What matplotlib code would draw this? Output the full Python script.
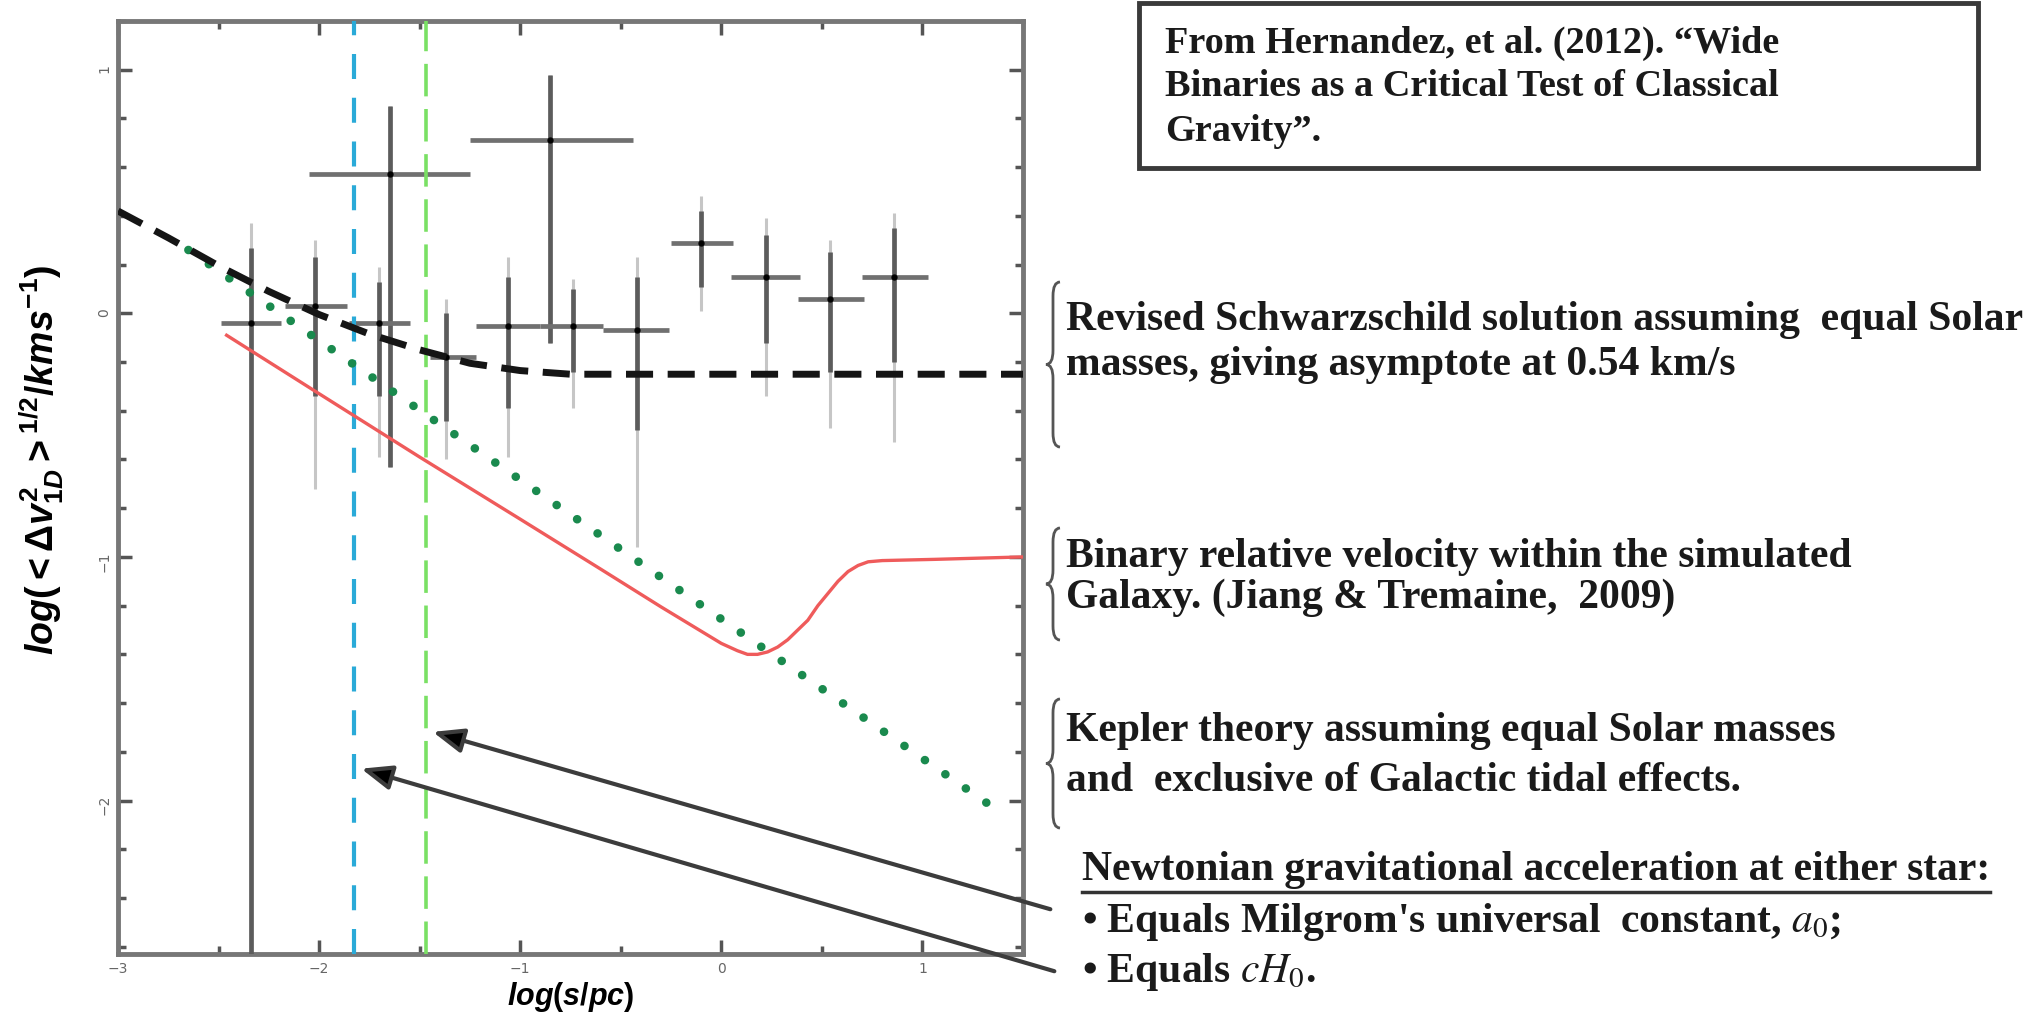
import numpy as np
import matplotlib
matplotlib.use('Agg')
import matplotlib.pyplot as plt
from matplotlib.path import Path
from matplotlib.patches import PathPatch, Rectangle
from matplotlib.ticker import MultipleLocator

plt.rcParams['mathtext.fontset'] = 'custom'
plt.rcParams['mathtext.it'] = 'Liberation Sans:italic:bold'
plt.rcParams['mathtext.rm'] = 'Liberation Sans:bold'
plt.rcParams['mathtext.bf'] = 'Liberation Sans:bold'

# --- binned wide-binary data (crosses) ---
pt_x = [-2.34, -2.02, -1.65, -1.70, -1.37, -1.06, -0.85, -0.74, -0.42, -0.10, 0.22, 0.54, 0.86]
pt_y = [-0.04, 0.03, 0.57, -0.04, -0.18, -0.05, 0.71, -0.05, -0.07, 0.29, 0.15, 0.06, 0.15]
x_lo = [-2.49, -2.17, -2.05, -1.85, -1.45, -1.22, -1.25, -0.90, -0.59, -0.25, 0.05, 0.38, 0.70]
x_hi = [-2.19, -1.86, -1.25, -1.55, -1.22, -0.90, -0.44, -0.59, -0.26, 0.06, 0.39, 0.71, 1.03]
dark_lo = [-3.00, -0.34, -0.63, -0.34, -0.44, -0.39, -0.12, -0.24, -0.48, 0.11, -0.12, -0.24, -0.20]
dark_hi = [0.27, 0.23, 0.85, 0.13, 0.00, 0.15, 0.98, 0.10, 0.15, 0.42, 0.32, 0.25, 0.35]
light_lo = [-3.00, -0.72, -0.63, -0.59, -0.60, -0.59, -0.12, -0.39, -0.96, 0.01, -0.34, -0.47, -0.53]
light_hi = [0.37, 0.30, 0.85, 0.19, 0.06, 0.23, 0.98, 0.14, 0.23, 0.48, 0.39, 0.30, 0.41]

# revised Schwarzschild curve (black dashed)
sch_x = [-3.0, -2.75, -2.5, -2.25, -2.0, -1.75, -1.5, -1.25, -1.0, -0.75, -0.5, 1.5]
sch_y = [0.42, 0.31, 0.195, 0.09, -0.005, -0.085, -0.15, -0.205, -0.235, -0.25, -0.25, -0.25]

# Jiang & Tremaine galaxy simulation (red)
jt_x = [-2.46, -2.0, -1.5, -1.0, -0.6, -0.3, -0.1, 0.0, 0.08, 0.13, 0.18, 0.23, 0.28, 0.33,
        0.38, 0.43, 0.48, 0.53, 0.58, 0.63, 0.68, 0.73, 0.8, 1.06, 1.5]
jt_y = [-0.09, -0.33, -0.59, -0.845, -1.05, -1.205, -1.305, -1.355, -1.385, -1.40, -1.40, -1.39,
        -1.37, -1.34, -1.30, -1.26, -1.20, -1.15, -1.10, -1.06, -1.035, -1.02, -1.015, -1.01, -1.0]

# Kepler (green dotted)
kep_x = [-2.65, 1.32]
kep_y = [0.26, -2.01]

cyan_x = -1.826
lime_x = -1.468

W, H = 2030, 1013


def fx(px):
    return px / W


def fy(py):
    return 1 - py / H


fig = plt.figure(figsize=(20.3, 10.13), dpi=100)
ax = fig.add_axes([fx(118), fy(954), (1023 - 118) / W, (954 - 21) / H])

ax.vlines(pt_x, light_lo, light_hi, color='#c6c6c6', lw=2.2, zorder=2)
ax.vlines(pt_x, dark_lo, dark_hi, color='#5c5c5c', lw=3.4, zorder=3)
ax.hlines(pt_y, x_lo, x_hi, color='#707070', lw=3.4, zorder=3)
ax.plot(pt_x, pt_y, 'o', ms=3.5, color='black', zorder=4)

ax.axvline(cyan_x, color='#2aaad8', lw=3, dashes=(6, 4.5), zorder=4)
ax.axvline(lime_x, color='#7ae064', lw=2.6, dashes=(9, 3.5), zorder=4)

ax.plot(jt_x, jt_y, color='#ef5b5b', lw=2.4, zorder=5)
ax.plot(kep_x, kep_y, color='#1a8a4e', lw=6.2, linestyle=(0, (0.01, 2.88)),
        dash_capstyle='round', zorder=6)
ax.plot(sch_x, sch_y, color='#151515', lw=5, dashes=(3.9, 2.1), zorder=7)

ax.set_xlim(-3, 1.5)
ax.set_ylim(-2.63, 1.2)
ax.xaxis.set_major_locator(MultipleLocator(1))
ax.xaxis.set_minor_locator(MultipleLocator(0.5))
ax.yaxis.set_major_locator(MultipleLocator(1))
ax.yaxis.set_minor_locator(MultipleLocator(0.2))
ax.tick_params(which='both', direction='in', top=True, right=True, color='#555555', width=2.5)
ax.tick_params(which='major', length=10, labelsize=10, labelcolor='#666666')
ax.tick_params(which='minor', length=6)
ax.tick_params(axis='x', pad=6)
ax.tick_params(axis='y', labelrotation=90, pad=5)
for s in ax.spines.values():
    s.set_color('#777777')
    s.set_linewidth(3.5)

ax.set_xlabel(r'$log(s/pc)$', fontsize=22, va='center')
ax.xaxis.set_label_coords(0.5, -(997 - 954) / 933)
ax.set_ylabel(r'$log(<\Delta v^2_{1D}>^{1/2}/kms^{-1})$', fontsize=27, va='center')
ax.yaxis.set_label_coords((42 - 118) / 905, (954 - 460) / 933)

# arrows to the vertical lines
for (hx, hy), (tx, ty) in [((-1.448, -1.715), (1053, 910)), ((-1.804, -1.866), (1057, 972))]:
    ax.annotate('', xy=(hx, hy), xycoords='data',
                xytext=(fx(tx), fy(ty)), textcoords='figure fraction',
                arrowprops=dict(arrowstyle='-|>,head_length=0.55,head_width=0.22',
                                mutation_scale=34, ec='#3c3c3c', fc='black', lw=3),
                annotation_clip=False, zorder=8)

serif = dict(family='Liberation Serif', weight='bold', color='#1a1a1a')

# reference box
fig.patches.append(Rectangle((fx(1139), fy(168)), (1978 - 1139) / W, (168 - 3) / H,
                             transform=fig.transFigure, fill=False, ec='#3a3a3a', lw=3.5))
for i, line in enumerate(['From Hernandez, et al. (2012). \u201cWide',
                          'Binaries as a Critical Test of Classical',
                          'Gravity\u201d.']):
    fig.text(fx(1165), fy(43 + 44 * i), line, fontsize=27.5, va='center', ha='left', **serif)


def brace(x, ytop, ybot, w=14):
    ym = (ytop + ybot) / 2
    pts = [(x + w, ytop), (x + w / 2, ytop), (x + w / 2, ytop + w),
           (x + w / 2, ym - w), (x + w / 2, ym), (x, ym),
           (x + w / 2, ym), (x + w / 2, ym + w),
           (x + w / 2, ybot - w), (x + w / 2, ybot), (x + w, ybot)]
    codes = [Path.MOVETO, Path.CURVE3, Path.CURVE3, Path.LINETO, Path.CURVE3, Path.CURVE3,
             Path.CURVE3, Path.CURVE3, Path.LINETO, Path.CURVE3, Path.CURVE3]
    verts = [(fx(a), fy(b)) for a, b in pts]
    fig.patches.append(PathPatch(Path(verts, codes), transform=fig.transFigure,
                                 fill=False, ec='#555555', lw=2))


notes = [
    (282, 447, [(320, 'Revised Schwarzschild solution assuming  equal Solar'),
                (365, 'masses, giving asymptote at 0.54 km/s')]),
    (528, 640, [(557, 'Binary relative velocity within the simulated'),
                (598, 'Galaxy. (Jiang & Tremaine,  2009)')]),
    (699, 828, [(731, 'Kepler theory assuming equal Solar masses'),
                (781, 'and  exclusive of Galactic tidal effects.')]),
]
for ytop, ybot, lines in notes:
    brace(1046, ytop, ybot)
    for py, txt in lines:
        fig.text(fx(1066), fy(py), txt, fontsize=30, va='center', ha='left', **serif)

hd = fig.text(fx(1082), fy(870), 'Newtonian gravitational acceleration at either star:',
              fontsize=30, va='center', ha='left', **serif)
fig.text(fx(1082), fy(922), "\u2022 Equals Milgrom's universal  constant, $a_0$;",
         fontsize=30, va='center', ha='left', math_fontfamily='stix', **serif)
fig.text(fx(1082), fy(972), '\u2022 Equals $cH_0$.',
         fontsize=30, va='center', ha='left', math_fontfamily='stix', **serif)

renderer = fig.canvas.get_renderer()
bb = hd.get_window_extent(renderer)
fig.add_artist(plt.Line2D([fx(bb.x0), fx(bb.x1)], [fy(892), fy(892)],
                          transform=fig.transFigure, color='#333333', lw=2.5))

fig.savefig('out.png', dpi=100, facecolor='white')
